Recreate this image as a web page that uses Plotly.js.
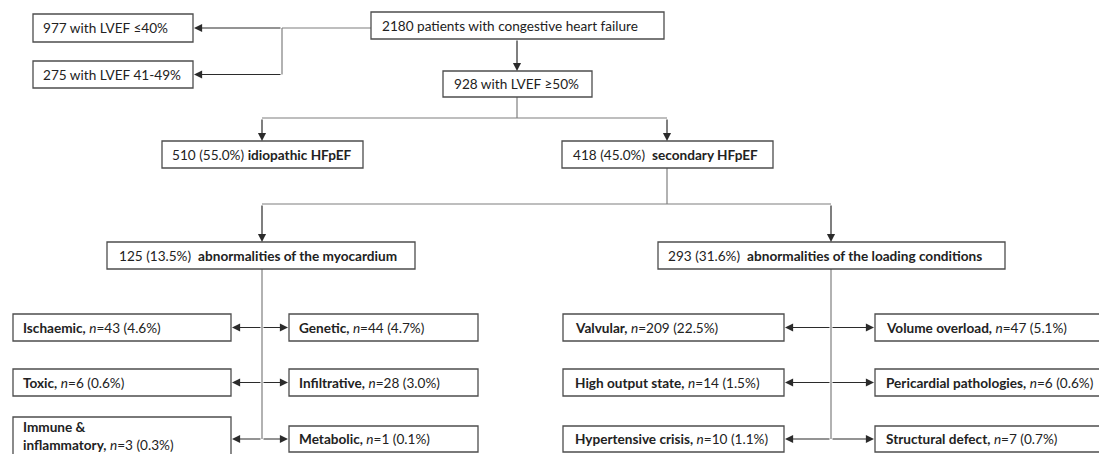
<!DOCTYPE html>
<html>
<head>
<meta charset="utf-8">
<script src="https://cdn.plot.ly/plotly-3.0.1.min.js"></script>
<style>html,body{margin:0;padding:0;background:#fff;}#chart{width:1099px;height:454px;}</style>
</head>
<body>
<div id="chart"></div>
<script>
// ---------- DATA ----------
const totalPatients = 2180;
const lvefGroups = ['≤40%', '41-49%', '≥50%'];
const lvefCounts = [977, 275, 928];
const hfpefTypes = ['idiopathic HFpEF', 'secondary HFpEF'];
const hfpefCounts = [510, 418];
const hfpefPct = [55.0, 45.0];
const secondaryGroups = ['abnormalities of the myocardium', 'abnormalities of the loading conditions'];
const secondaryCounts = [125, 293];
const secondaryPct = [13.5, 31.6];
const myocardiumCauses = ['Ischaemic', 'Genetic', 'Toxic', 'Infiltrative', 'Immune & inflammatory', 'Metabolic'];
const myocardiumN = [43, 44, 6, 28, 3, 1];
const myocardiumPct = [4.6, 4.7, 0.6, 3.0, 0.3, 0.1];
const loadingCauses = ['Valvular', 'Volume overload', 'High output state', 'Pericardial pathologies', 'Hypertensive crisis', 'Structural defect'];
const loadingN = [209, 47, 14, 6, 10, 7];
const loadingPct = [22.5, 5.1, 1.5, 0.6, 1.1, 0.7];

// ---------- LAYOUT SPEC (positions in pixel-like axis units) ----------
const pct = v => v.toFixed(1) + '%';
const SP = '\u00a0';
function causeLabel(name, n, p) {
  let nm = name;
  if (nm.indexOf(' & ') >= 0) nm = nm.replace(' & ', ' &<br>');
  const parts = nm.split('<br>');
  const b = parts.map((s, i) => i === parts.length - 1 ? '<b>' + s + ',</b>' : '<b>' + s + '</b>').join('<br>');
  return b + ' <i>n</i>=' + n + ' (' + pct(p) + ')';
}

const boxes = [];
function box(x0, x1, y0, y1, tx, text, ty) {
  boxes.push({x0, x1, y0, y1, tx, text, ty: ty === undefined ? (y0 + y1) / 2 : ty});
}
box(371, 664, 12, 39, 381, totalPatients + ' patients with congestive heart failure');
box(33, 193, 14, 42, 42, lvefCounts[0] + ' with LVEF ' + lvefGroups[0]);
box(33, 193, 61, 88, 42, lvefCounts[1] + ' with LVEF ' + lvefGroups[1]);
box(443, 592, 71, 97, 453, lvefCounts[2] + ' with LVEF ' + lvefGroups[2]);
box(162, 363, 141, 168, 171, hfpefCounts[0] + ' (' + pct(hfpefPct[0]) + ') <b>' + hfpefTypes[0] + '</b>');
box(562, 773, 141, 168, 572, hfpefCounts[1] + ' (' + pct(hfpefPct[1]) + ')' + SP + ' <b>' + hfpefTypes[1] + '</b>');
box(107, 415, 242, 269, 118, secondaryCounts[0] + ' (' + pct(secondaryPct[0]) + ')' + SP + ' <b>' + secondaryGroups[0] + '</b>');
box(658, 1005, 242, 269, 667, secondaryCounts[1] + ' (' + pct(secondaryPct[1]) + ')' + SP + ' <b>' + secondaryGroups[1] + '</b>');

const rowsY = [[314, 341], [369, 396], [426, 452]];
const leftCols = [[13, 231, 22], [289, 478, 298]];
const rightCols = [[563, 784, 574], [875, 1115, 885]];
for (let i = 0; i < 6; i++) {
  const r = Math.floor(i / 2), c = i % 2;
  let y0 = rowsY[r][0], y1 = rowsY[r][1], ty;
  if (myocardiumCauses[i].indexOf(' & ') >= 0) { y0 = 417; y1 = 470; ty = 436; }
  box(leftCols[c][0], leftCols[c][1], y0, y1, leftCols[c][2], causeLabel(myocardiumCauses[i], myocardiumN[i], myocardiumPct[i]), ty);
  box(rightCols[c][0], rightCols[c][1], rowsY[r][0], rowsY[r][1], rightCols[c][2], causeLabel(loadingCauses[i], loadingN[i], loadingPct[i]));
}

const LINE = '#7f7f7f';
const BORDER = '#4d4d4d';
const HEAD = '#2b2b2b';
const shapes = [];
const annotations = [];

boxes.forEach(b => {
  shapes.push({type: 'rect', xref: 'x', yref: 'y', x0: b.x0, x1: b.x1, y0: b.y0, y1: b.y1,
    line: {color: BORDER, width: 1.3}, fillcolor: '#ffffff', layer: 'above'});
  annotations.push({xref: 'x', yref: 'y', x: b.tx, y: b.ty, xanchor: 'left', yanchor: 'middle',
    text: b.text, showarrow: false, align: 'left', borderpad: 0,
    font: {family: 'Lato, "Open Sans", sans-serif', size: 13.6, color: '#222222'}});
});

function seg(x0, y0, x1, y1) {
  shapes.push({type: 'line', xref: 'x', yref: 'y', x0, y0, x1, y1, line: {color: LINE, width: 1.2}, layer: 'below'});
}
function arrow(x0, y0, x1, y1) {
  annotations.push({xref: 'x', yref: 'y', axref: 'x', ayref: 'y', x: x1, y: y1, ax: x0, ay: y0,
    text: '', showarrow: true, arrowhead: 2, arrowsize: 1.35, arrowwidth: 1.2, arrowcolor: HEAD, standoff: 0});
}

// top: main box to LVEF groups
seg(371, 28, 282, 28);
arrow(282, 28, 194, 28);
seg(282, 28, 282, 74.5);
arrow(282, 74.5, 194, 74.5);
arrow(517, 39, 517, 71);
// 928 -> idiopathic/secondary
seg(517, 97, 517, 118);
seg(262, 118, 667, 118);
arrow(262, 118, 262, 141);
arrow(667, 118, 667, 141);
// secondary -> groups
seg(667, 168, 667, 204);
seg(262, 204, 831, 204);
arrow(262, 204, 262, 242);
arrow(831, 204, 831, 242);
// stems to the cause rows
seg(262, 269, 262, 439);
seg(831, 269, 831, 439);
const arrowRows = [327.5, 382.5, 439];
arrowRows.forEach(y => {
  arrow(262, y, 232, y);
  arrow(262, y, 288, y);
  arrow(831, y, 785, y);
  arrow(831, y, 874, y);
});

const layout = {
  width: 1099, height: 454,
  margin: {l: 0, r: 0, t: 0, b: 0},
  paper_bgcolor: '#ffffff', plot_bgcolor: '#ffffff',
  xaxis: {range: [0, 1099], visible: false, fixedrange: true},
  yaxis: {range: [454, 0], visible: false, fixedrange: true},
  shapes: shapes,
  annotations: annotations,
  showlegend: false
};

Plotly.newPlot('chart', [{type: 'scatter', x: [], y: [], hoverinfo: 'skip'}], layout, {staticPlot: true, displayModeBar: false});
</script>
</body>
</html>
